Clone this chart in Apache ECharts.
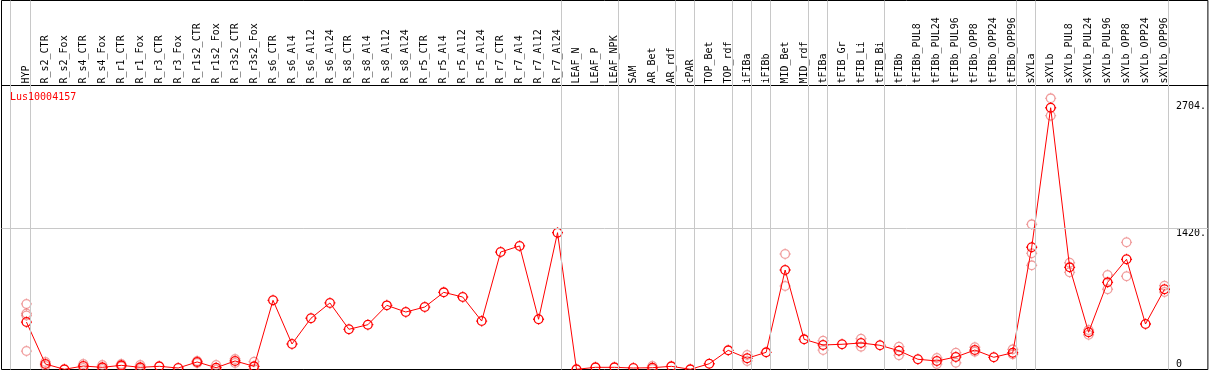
<!DOCTYPE html>
<html>
<head>
<meta charset="utf-8">
<script src="https://cdn.jsdelivr.net/npm/echarts@6/dist/echarts.min.js"></script>
<style>
  html, body { margin: 0; padding: 0; background: #fff; }
  #main { width: 1209px; height: 370px; }
</style>
</head>
<body>
<div id="main"></div>
<script>
var geneName = 'Lus10004157';

var samples = [
  'HYP', 'R_s2_CTR', 'R_s2_Fox', 'R_s4_CTR', 'R_s4_Fox', 'R_r1_CTR', 'R_r1_Fox',
  'R_r3_CTR', 'R_r3_Fox', 'R_r1s2_CTR', 'R_r1s2_Fox', 'R_r3s2_CTR', 'R_r3s2_Fox',
  'R_s6_CTR', 'R_s6_Al4', 'R_s6_Al12', 'R_s6_Al24', 'R_s8_CTR', 'R_s8_Al4',
  'R_s8_Al12', 'R_s8_Al24', 'R_r5_CTR', 'R_r5_Al4', 'R_r5_Al12', 'R_r5_Al24',
  'R_r7_CTR', 'R_r7_Al4', 'R_r7_Al12', 'R_r7_Al24', 'LEAF_N', 'LEAF_P', 'LEAF_NPK',
  'SAM', 'AR_Bet', 'AR_rdf', 'cPAR', 'TOP_Bet', 'TOP_rdf', 'iFIBa', 'iFIBb',
  'MID_Bet', 'MID_rdf', 'tFIBa', 'tFIB_Gr', 'tFIB_Li', 'tFIB_Bi', 'tFIBb',
  'tFIBb_PUL8', 'tFIBb_PUL24', 'tFIBb_PUL96', 'tFIBb_OPP8', 'tFIBb_OPP24', 'tFIBb_OPP96',
  'sXYLa', 'sXYLb', 'sXYLb_PUL8', 'sXYLb_PUL24', 'sXYLb_PUL96', 'sXYLb_OPP8',
  'sXYLb_OPP24', 'sXYLb_OPP96'
];

// mean expression per sample
var means = [
  478, 55, 2, 35, 22, 42, 22, 32, 15, 76, 18, 86, 32,
  697, 257, 516, 670, 405, 451, 646, 579, 629, 777, 730, 488,
  1183, 1244, 506, 1378, 2, 22, 22,
  15, 18, 32, 2, 58, 193, 113, 173,
  1002, 304, 247, 254, 267, 244, 189,
  103, 86, 126, 196, 123, 169,
  1231, 2636, 1029, 375, 878, 1110, 458, 808
];

// individual replicates (only where they show apart from the mean)
var replicates = [
  [660, 564, 544, 186], [76, 35], [], [55, 15], [45, 5], [55, 30], [45, 5],
  [], [], [86, 65], [45, 0], [106, 65], [79, 5],
  [], [], [], [], [], [], [], [], [], [], [], [],
  [], [], [], [], [], [], [],
  [], [35, 5], [], [], [], [], [146, 86], [],
  [1163, 841], [], [290, 196], [], [310, 230], [], [230, 143],
  [], [116, 55], [169, 68], [224, 179], [], [203, 153],
  [1462, 1170, 1049], [2731, 2556], [1075, 979], [398, 350], [952, 808], [1281, 939], [], [844, 780]
];

// tissue groups end after these sample numbers
var groupEnds = [1, 29, 32, 35, 36, 38, 39, 40, 42, 43, 46, 53, 54, 61];
var yTicks = [1420, 2704];

var chart = echarts.init(document.getElementById('main'));

var lineData = means.map(function (v, i) { return [i + 1, v]; });
var repData = [];
replicates.forEach(function (arr, i) {
  arr.forEach(function (v) { repData.push([i + 1, v]); });
});

var sepLines = [{ xAxis: 0.15 }];
groupEnds.forEach(function (g) { sepLines.push({ xAxis: g + 0.21 }); });
sepLines.push({ yAxis: 1420 });

// circle with four small ticks
var tickedCircle = 'path://M0,-5.6L0,-4.4M0,4.4L0,5.6M-5.6,0L-4.4,0M4.4,0L5.6,0' +
  'M4.4,0C4.4,2.43 2.43,4.4 0,4.4C-2.43,4.4 -4.4,2.43 -4.4,0C-4.4,-2.43 -2.43,-4.4 0,-4.4C2.43,-4.4 4.4,-2.43 4.4,0Z';
var mono = 'DejaVu Sans Mono';

var option = {
  backgroundColor: '#fff',
  animation: false,
  title: {
    text: geneName,
    left: 10,
    top: 92,
    padding: 0,
    textStyle: { color: '#ff0000', fontFamily: mono, fontSize: 10, fontWeight: 'normal' }
  },
  grid: {
    left: 1.5, right: -1, top: 0.5, bottom: 0.5,
    show: true, borderColor: '#000', borderWidth: 1, backgroundColor: '#fff'
  },
  xAxis: {
    type: 'value',
    position: 'top',
    offset: -85,
    min: 1 - 25 / 19,
    max: 1 - 25 / 19 + 1208.5 / 19,
    splitLine: { show: false },
    axisTick: { show: false },
    axisLine: { show: true, onZero: false, lineStyle: { color: '#000', width: 1 } },
    axisLabel: {
      customValues: samples.map(function (s, i) { return i + 1; }),
      formatter: function (v) { return samples[Math.round(v) - 1] || ''; },
      rotate: -90,
      margin: 2,
      color: '#000',
      fontFamily: mono,
      fontSize: 10,
      hideOverlap: false
    }
  },
  yAxis: [{
    type: 'value',
    position: 'right',
    min: 0,
    max: 3716,
    splitLine: { show: false },
    axisLine: { show: false },
    axisTick: { show: false },
    axisLabel: {
      inside: true,
      customValues: yTicks,
      formatter: function (v) { return v + '.'; },
      align: 'left',
      verticalAlign: 'top',
      margin: 32,
      color: '#000',
      fontFamily: mono,
      fontSize: 10
    }
  }, {
    type: 'value',
    position: 'right',
    min: 0,
    max: 3716,
    splitLine: { show: false },
    axisLine: { show: false },
    axisTick: { show: false },
    axisLabel: {
      inside: true,
      customValues: [0],
      formatter: function (v) { return '' + v; },
      align: 'left',
      verticalAlign: 'bottom',
      margin: 32,
      color: '#000',
      fontFamily: mono,
      fontSize: 10
    }
  }],
  series: [
    {
      name: 'replicates',
      type: 'scatter',
      data: repData,
      symbol: tickedCircle,
      symbolSize: 11,
      itemStyle: { color: 'transparent', borderColor: 'rgba(232,100,100,0.8)', borderWidth: 1.3 },
      z: 2,
      markLine: {
        silent: true,
        symbol: 'none',
        label: { show: false },
        lineStyle: { color: '#c8c8c8', type: 'solid', width: 1 },
        data: sepLines
      }
    },
    {
      name: geneName,
      type: 'line',
      data: lineData,
      symbol: tickedCircle,
      symbolSize: 11,
      showAllSymbol: true,
      lineStyle: { color: '#ff0000', width: 1 },
      itemStyle: { color: 'transparent', borderColor: '#ff0000', borderWidth: 1.3 },
      z: 3
    }
  ]
};

chart.setOption(option);
</script>
</body>
</html>
